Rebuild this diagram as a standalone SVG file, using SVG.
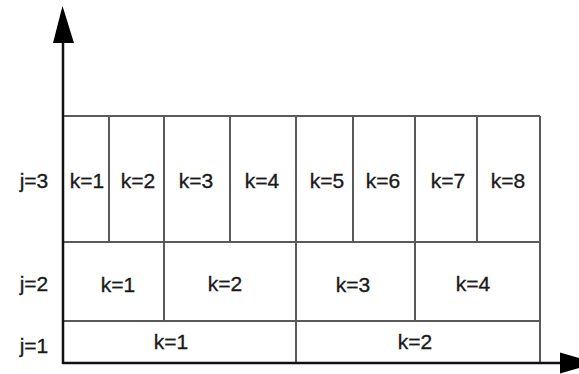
<svg xmlns="http://www.w3.org/2000/svg" width="579" height="374" viewBox="0 0 579 374">
<style>
.g{stroke:#5a5a5a;stroke-width:2;fill:none}
.ax{stroke:#111;stroke-width:2.5;fill:none}
.t{font-family:"Liberation Sans",Arial,sans-serif;font-size:21px;fill:#1a1a1a;stroke:#1a1a1a;stroke-width:0.35;text-anchor:middle}
</style>
<rect width="579" height="374" fill="#fff"/>
<g id="grid">
<line class="g" x1="63" y1="116" x2="540" y2="116"/>
<line class="g" x1="63" y1="242" x2="540" y2="242"/>
<line class="g" x1="63" y1="321" x2="540" y2="321"/>
<line class="g" x1="540" y1="116" x2="540" y2="363"/>
<line class="g" x1="109" y1="116" x2="109" y2="242"/>
<line class="g" x1="164" y1="116" x2="164" y2="321"/>
<line class="g" x1="230" y1="116" x2="230" y2="242"/>
<line class="g" x1="296" y1="116" x2="296" y2="363"/>
<line class="g" x1="353" y1="116" x2="353" y2="242"/>
<line class="g" x1="415" y1="116" x2="415" y2="321"/>
<line class="g" x1="477" y1="116" x2="477" y2="242"/>
</g>
<g id="axes">
<line class="ax" x1="63" y1="364" x2="63" y2="38"/>
<polygon points="62.5,6 53,43 74,43" fill="#000"/>
<line class="ax" x1="62" y1="363" x2="562" y2="363"/>
<polygon points="597,363 560,352.5 560,373.5" fill="#000"/>
</g>
<g id="labels">
<text class="t" x="34" y="188">j=3</text>
<text class="t" x="34" y="291">j=2</text>
<text class="t" x="34" y="353">j=1</text>
<text class="t" x="87" y="188">k=1</text>
<text class="t" x="138" y="188">k=2</text>
<text class="t" x="196" y="188">k=3</text>
<text class="t" x="262" y="188">k=4</text>
<text class="t" x="327" y="188">k=5</text>
<text class="t" x="383" y="188">k=6</text>
<text class="t" x="448" y="188">k=7</text>
<text class="t" x="508" y="188">k=8</text>
<text class="t" x="118" y="292">k=1</text>
<text class="t" x="225" y="291">k=2</text>
<text class="t" x="353" y="292">k=3</text>
<text class="t" x="473" y="291">k=4</text>
<text class="t" x="171" y="349">k=1</text>
<text class="t" x="415" y="349">k=2</text>
</g>
</svg>
